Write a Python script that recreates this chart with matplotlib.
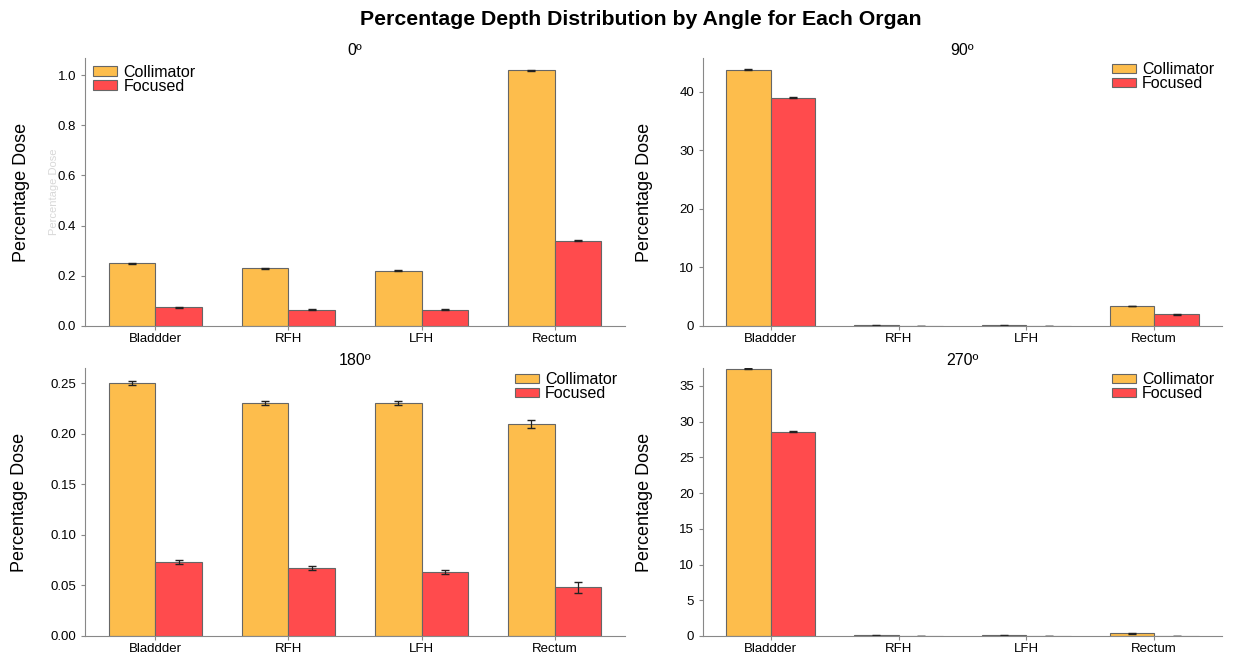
import matplotlib
matplotlib.use("Agg")
import matplotlib.pyplot as plt
import numpy as np

plt.rcParams["font.family"] = ["Liberation Sans", "DejaVu Sans"]

organs = ["Bladdder", "RFH", "LFH", "Rectum"]
angles = ["0º", "90º", "180º", "270º"]

coll = {
    "0º": [0.25, 0.23, 0.22, 1.02],
    "90º": [43.8, 0.10, 0.10, 3.4],
    "180º": [0.25, 0.23, 0.23, 0.21],
    "270º": [37.4, 0.08, 0.08, 0.35],
}
foc = {
    "0º": [0.075, 0.065, 0.065, 0.34],
    "90º": [39.0, 0.05, 0.02, 2.0],
    "180º": [0.073, 0.067, 0.063, 0.048],
    "270º": [28.6, 0.02, 0.02, 0.02],
}
coll_err = {
    "0º": [0.002, 0.002, 0.002, 0.002],
    "90º": [0.05, 0.02, 0.02, 0.05],
    "180º": [0.002, 0.002, 0.002, 0.004],
    "270º": [0.05, 0.02, 0.02, 0.02],
}
foc_err = {
    "0º": [0.002, 0.002, 0.002, 0.002],
    "90º": [0.05, 0.02, 0.02, 0.05],
    "180º": [0.002, 0.002, 0.002, 0.005],
    "270º": [0.05, 0.02, 0.02, 0.02],
}
ylims = {"0º": 1.068, "90º": 45.8, "180º": 0.265, "270º": 37.5}

C_COLL = "#FDBD4C"
C_FOC = "#FF4B4D"

fig = plt.figure(figsize=(12.51, 6.6), dpi=100)
W, H = 1251, 660
boxes = [(85, 58, 625, 326), (703, 58, 1222, 326),
         (85, 368, 625, 636), (703, 368, 1222, 636)]
label_x = [-0.102, -0.096, -0.106, -0.096]

x = np.arange(len(organs))
w = 0.35
for i, ang in enumerate(angles):
    l, t, r, b = boxes[i]
    ax = fig.add_axes([l / W, 1 - b / H, (r - l) / W, (b - t) / H])
    ax.bar(x - w / 2, coll[ang], w, yerr=coll_err[ang], color=C_COLL,
           edgecolor="#666666", linewidth=0.8, label="Collimator",
           error_kw=dict(ecolor="#222222", elinewidth=0.9, capsize=3))
    ax.bar(x + w / 2, foc[ang], w, yerr=foc_err[ang], color=C_FOC,
           edgecolor="#666666", linewidth=0.8, label="Focused",
           error_kw=dict(ecolor="#222222", elinewidth=0.9, capsize=3))
    ax.set_xticks(x)
    ax.set_xticklabels(organs, fontsize=9.5)
    ax.set_xlim(-0.53, 3.53)
    ax.set_ylim(0, ylims[ang])
    ax.tick_params(axis="y", labelsize=9.5, length=3, color="#888888")
    ax.tick_params(axis="x", length=3, color="#888888", pad=2)
    for s in ["top", "right"]:
        ax.spines[s].set_visible(False)
    for s in ["left", "bottom"]:
        ax.spines[s].set_color("#888888")
    ax.set_ylabel("Percentage Dose", fontsize=13)
    ax.yaxis.set_label_coords(label_x[i], 0.5)
    ax.set_title(ang, fontsize=11.5, pad=0)
    loc = "upper left" if i == 0 else "upper right"
    ax.legend(loc=loc, frameon=False, fontsize=11.5, handlelength=1.5,
              handleheight=0.55, labelspacing=-0.05, borderaxespad=0.1,
              handletextpad=0.4,
              bbox_to_anchor=(0.0, 1.005) if i == 0 else (1.0, 1.015))
    if i == 0:
        ax.text(-0.058, 0.5, "Percentage Dose", transform=ax.transAxes,
                rotation=90, fontsize=8, color="#d8d8d8", ha="center", va="center")

fig.suptitle("Percentage Depth Distribution by Angle for Each Organ",
             fontsize=15.3, fontweight="bold", x=0.512, y=0.985)
fig.savefig("out.png", dpi=100)
